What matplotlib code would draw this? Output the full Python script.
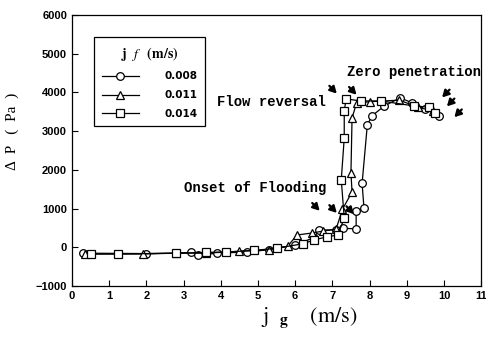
import matplotlib.pyplot as plt

# j_f = 0.008 m/s (circles)
jg_008 = [0.3, 2.0, 2.8, 3.2, 3.4, 3.9, 4.7, 5.3, 6.0, 6.5, 6.65, 7.1, 7.3, 7.64, 7.64, 7.85, 7.8, 7.94, 8.07, 8.4, 8.82, 9.15, 9.5, 9.87]
dp_008 = [-150, -160, -150, -130, -200, -150, -120, -60, 60, 250, 450, 450, 490, 480, 930, 1020, 1650, 3160, 3400, 3650, 3860, 3730, 3560, 3390]

# j_f = 0.011 m/s (triangles)
jg_011 = [0.35, 1.9, 2.8, 3.6, 4.5, 5.3, 5.8, 6.05, 6.45, 6.75, 7.1, 7.27, 7.53, 7.5, 7.53, 7.65, 8.0, 8.8, 9.3, 9.7]
dp_011 = [-170, -170, -150, -150, -100, -60, 30, 320, 370, 420, 470, 980, 1430, 1920, 3340, 3720, 3760, 3800, 3620, 3520]

# j_f = 0.014 m/s (squares)
jg_014 = [0.5, 1.25, 2.8, 3.6, 4.15, 4.9, 5.5, 6.2, 6.5, 6.85, 7.15, 7.32, 7.24, 7.32, 7.32, 7.37, 7.77, 8.3, 9.2, 9.6, 9.76]
dp_014 = [-170, -170, -150, -130, -120, -80, -20, 90, 190, 270, 320, 760, 1740, 2820, 3520, 3830, 3780, 3780, 3650, 3620, 3480]

labels = ['0.008', '0.011', '0.014']


def main():
    plt.rcParams['mathtext.fontset'] = 'stix'
    fig = plt.figure(figsize=(4.86, 3.39), dpi=100)
    ax = fig.add_axes([0.148, 0.156, 0.842, 0.80])

    style = dict(color='black', lw=0.9, mfc='white', mec='black', mew=0.9, ms=5.5)
    ax.plot(jg_008, dp_008, marker='o', label=labels[0], **style)
    ax.plot(jg_011, dp_011, marker='^', label=labels[1], **style)
    ax.plot(jg_014, dp_014, marker='s', label=labels[2], **style)

    ax.set_xlim(0, 11)
    ax.set_ylim(-1000, 6000)
    ax.set_xticks(range(0, 12))
    ax.set_yticks(range(-1000, 7000, 1000))
    ax.tick_params(direction='in', length=4, labelsize=8, width=0.8)
    for t in ax.get_xticklabels() + ax.get_yticklabels():
        t.set_fontweight('bold')
        t.set_family('Liberation Sans')

    ax.set_xlabel(r'$\mathrm{j}\ \ _{\mathbf{g}}\ \ \ \ \mathrm{(m/s)}$', fontsize=16)
    ax.xaxis.set_label_coords(0.58, -0.07)
    ax.set_ylabel('Δ  P   (  Pa  )', fontsize=11, family='Liberation Serif')
    ax.yaxis.set_label_coords(-0.13, 0.57)

    leg = ax.legend(title=r'$\mathbf{j}\ \ \mathit{f}\ \ \ \mathbf{(m/s)}$', loc='upper left',
                    bbox_to_anchor=(0.042, 0.937), fancybox=False, edgecolor='black',
                    framealpha=1, fontsize=7.5, title_fontsize=10, handlelength=3.6,
                    borderpad=0.7, labelspacing=0.85, handletextpad=2.4)
    leg.get_frame().set_linewidth(0.9)
    for t in leg.get_texts():
        t.set_fontweight('bold')

    mono = dict(family='Liberation Mono', fontweight='bold', fontsize=10)
    ax.text(7.4, 4530, 'Zero penetration', ha='left', va='center', **mono)
    ax.text(3.91, 3750, 'Flow reversal', ha='left', va='center', **mono)
    ax.text(3.0, 1530, 'Onset of Flooding', ha='left', va='center', **mono)

    arrow = dict(arrowstyle='-|>,head_length=0.4,head_width=0.22', color='black', lw=1.6,
                 shrinkA=0, shrinkB=0)
    arrows = [
        ((6.92, 4170), (7.12, 3970)),
        ((7.45, 4140), (7.65, 3940)),
        ((10.15, 4070), (9.95, 3870)),
        ((10.28, 3840), (10.08, 3640)),
        ((10.48, 3560), (10.28, 3360)),
        ((6.46, 1145), (6.66, 945)),
        ((6.92, 1090), (7.12, 890)),
        ((7.38, 1060), (7.58, 860)),
    ]
    for start, end in arrows:
        ax.annotate('', xy=end, xytext=start, arrowprops=arrow)

    for s in ax.spines.values():
        s.set_linewidth(0.9)

    fig.savefig('out.png', dpi=100)


if __name__ == '__main__':
    main()
